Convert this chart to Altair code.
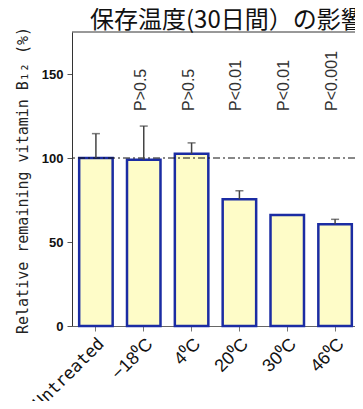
import altair as alt
import pandas as pd

# ---- data ----
categories = ["Untreated", "−18⁰C", "4⁰C", "20⁰C", "30⁰C", "46⁰C"]
means = [100.0, 99.0, 102.5, 75.5, 66.0, 60.5]
upper = [114.5, 119.0, 109.0, 80.5, None, 63.5]   # mean + SD (no bar for 30C)
p_labels = ["", "P>0.5", "P>0.5", "P<0.01", "P<0.01", "P<0.001"]
reference_level = 100
y_max = 175
title_text = "保存温度(30日間）の影響"
y_title = "Relative remaining vitamin B₁₂  (%)"
y_ticks = [0, 50, 100, 150]

df = pd.DataFrame({"cat": categories, "mean": means, "upper": upper, "p": p_labels})
err = df.dropna(subset=["upper"])
pdf = df[df["p"] != ""]

x_scale = alt.Scale(paddingInner=0.3, paddingOuter=0.15, range=[0, 287])
x_enc = alt.X(
    "cat:N",
    sort=categories,
    scale=x_scale,
    axis=alt.Axis(
        title=None,
        labelAngle=-45,
        labelFont=alt.ExprRef(
            expr="datum.value == 'Untreated' ? 'DejaVu Sans Mono' : 'Liberation Sans'"
        ),
        labelFontSize=alt.ExprRef(expr="datum.value == 'Untreated' ? 17 : 18"),
        labelColor="#111",
        labelPadding=4,
        tickSize=5,
        tickColor="#777",
        domainColor="#666",
    ),
)
y_scale = alt.Scale(domain=[0, y_max], nice=False)

bars = alt.Chart(df).mark_bar(
    fill="#fefcc8", stroke="#1b2ca3", strokeWidth=2.5
).encode(
    x=x_enc,
    y=alt.Y(
        "mean:Q",
        scale=y_scale,
        axis=alt.Axis(
            values=y_ticks,
            grid=False,
            title=y_title,
            titleFont="DejaVu Sans Mono",
            titleFontSize=15,
            titleFontWeight="normal",
            titleColor="#222",
            titleAngle=270,
            titleAlign="center",
            titleBaseline="alphabetic",
            titleX=-45,
            titleY=148,
            labelFont="Liberation Sans",
            labelFontSize=13,
            labelFontWeight="bold",
            labelColor="#111",
            labelPadding=4,
            tickSize=5,
            tickColor="#555",
            domainColor="#333",
        ),
    ),
)

err_rule = alt.Chart(err).mark_rule(color="#444", strokeWidth=1.5).encode(
    x=alt.X("cat:N", sort=categories, scale=x_scale),
    y=alt.Y("mean:Q", scale=y_scale),
    y2="upper:Q",
)
err_cap = alt.Chart(err).mark_tick(
    color="#444", orient="horizontal", size=8, thickness=1.5
).encode(
    x=alt.X("cat:N", sort=categories, scale=x_scale),
    y=alt.Y("upper:Q", scale=y_scale),
)

ref = alt.Chart(pd.DataFrame({"r": [reference_level]})).mark_rule(
    color="#111", strokeWidth=1, strokeDash=[7, 3, 2, 3]
).encode(y=alt.Y("r:Q", scale=y_scale))

top_border = alt.Chart(pd.DataFrame({"r": [y_max]})).mark_rule(
    color="#333", strokeWidth=1
).encode(y=alt.Y("r:Q", scale=y_scale))

ptext = alt.Chart(pdf).mark_text(
    angle=270, align="left", baseline="alphabetic", dy=2,
    font="Liberation Sans", fontSize=16, color="#333",
).encode(
    x=alt.X("cat:N", sort=categories, scale=x_scale),
    y=alt.value(79),
    text="p:N",
)

title = alt.Chart(pd.DataFrame({"t": [title_text]})).mark_text(
    align="left", baseline="alphabetic", font="Noto Sans CJK JP",
    fontSize=24, color="#111",
).encode(x=alt.value(18), y=alt.value(-4), text="t:N")

chart = alt.layer(bars, ref, top_border, err_rule, err_cap, ptext, title).properties(
    width=283,
    height=294,
    autosize=alt.AutoSizeParams(type="none"),
    padding={"left": 64, "top": 24, "right": 0, "bottom": 75},
).configure_view(stroke=None)

chart.save("out.html", embed_options={"renderer": "svg", "actions": False})
